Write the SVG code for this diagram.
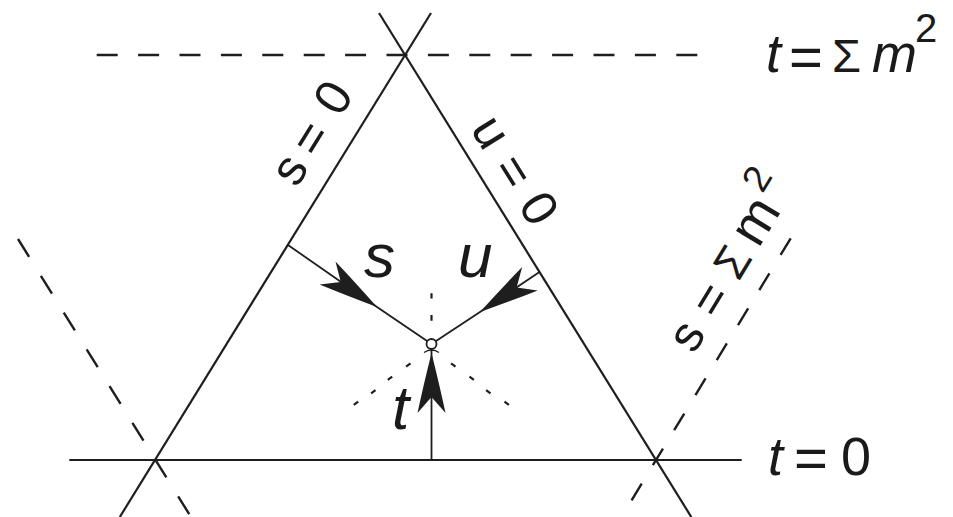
<svg xmlns="http://www.w3.org/2000/svg" width="953" height="517" viewBox="0 0 953 517">
<style>
.ln{stroke:#1e1e1e;stroke-width:2.2;fill:none;stroke-linecap:butt}
.ds{stroke:#1e1e1e;stroke-width:2.4;fill:none;stroke-dasharray:21 20.4}
.ds2{stroke:#1e1e1e;stroke-width:2.4;fill:none;stroke-dasharray:21 22.3}
.ds3{stroke:#1e1e1e;stroke-width:2.4;fill:none;stroke-dasharray:19.5 21.5}
.ar{stroke:#1e1e1e;stroke-width:1.8;fill:none}
.dt{stroke:#1e1e1e;stroke-width:2.2;fill:none}
text{font-family:"Liberation Sans",Arial,Helvetica,sans-serif;fill:#1a1a1a}
.it{font-style:italic}
.lb{font-size:50px}
.lbl{font-size:62px;font-style:italic}
.big{font-size:54px}
</style>
<defs>
<marker id="harpoon" markerUnits="userSpaceOnUse" markerWidth="70" markerHeight="34" viewBox="-64 -17 66 34" refX="0" refY="0" orient="auto" overflow="visible">
<path d="M0,0 Q-32,-8 -60,-14 L-44,0 L-60,14 Q-32,8 0,0 Z" fill="#1e1e1e"/>
</marker>
</defs>
<g id="connectors">
<line class="ds" x1="96.7" y1="55" x2="697.3" y2="55"/>
<line class="ds2" x1="18" y1="239" x2="191" y2="517"/>
<line class="ds3" x1="790.7" y1="238.3" x2="621.4" y2="517"/>
<line class="ln" x1="431" y1="13" x2="119.8" y2="517"/>
<line class="ln" x1="379" y1="13" x2="691.3" y2="517"/>
<line class="ln" x1="69.3" y1="460" x2="741.7" y2="460"/>
<path class="ar" d="M288,245 L377,307 L431.5,344" marker-mid="url(#harpoon)"/>
<path class="ar" d="M539.5,272 L480,312 L431.5,344" marker-mid="url(#harpoon)"/>
<path class="ar" d="M431.5,460 L431.5,353 L431.5,348.5" marker-mid="url(#harpoon)"/>
<path class="dt" d="M431.5,293.3 V298.5 M431.5,315 V320.7"/>
<path class="dt" d="M410.5,363.4 L406.1,366.6 M392.2,376.7 L387.8,379.9 M375.5,390.1 L371.1,393.3 M358.2,401.7 L353.8,404.9"/>
<path class="dt" d="M451.1,363.4 L455.5,366.6 M469.5,376.7 L473.9,379.9 M486.1,390.1 L490.5,393.3 M504.5,401.7 L508.9,404.9"/>
</g>
<g id="vertex">
<circle cx="431.5" cy="344" r="5" fill="#fff" stroke="#1e1e1e" stroke-width="1.8"/>
<path d="M424,352.5 Q431.5,347.5 439,352.5" stroke="#1e1e1e" stroke-width="1.3" fill="none"/>
</g>
<g id="label-s"><text class="lbl" x="364" y="277">s</text></g>
<g id="label-u"><text class="lbl" x="458" y="277">u</text></g>
<g id="label-t"><text class="lbl" x="392" y="429">t</text></g>
<g id="label-t0">
<text class="big it" x="768" y="475">t</text>
<text x="794" y="478" font-size="58">=</text>
<text class="big" x="841" y="475">0</text>
</g>
<g id="label-tsum">
<text class="big it" x="766" y="72">t</text>
<text x="789" y="77" font-size="58">=</text>
<text x="832" y="72" font-size="47">Σ</text>
<text class="big it" x="872" y="72">m</text>
<text x="915" y="42" font-size="40">2</text>
</g>
<g id="label-s0" transform="translate(155,460) rotate(-58.3)">
<text class="lb" x="317.7" y="-22" text-anchor="middle">s</text>
<text class="lb" x="355.6" y="-20" text-anchor="middle" font-size="54">=</text>
<text class="lb" x="402" y="-22" text-anchor="middle">0</text>
</g>
<g id="label-u0" transform="translate(405,55) rotate(58.2)">
<text class="lb" x="111" y="-16" text-anchor="middle">u</text>
<text class="lb" x="156.3" y="-14" text-anchor="middle" font-size="54">=</text>
<text class="lb" x="200.9" y="-16" text-anchor="middle">0</text>
</g>
<g id="label-ssum" transform="translate(656,460) rotate(-58.7)">
<text class="lb" x="122" y="-22" text-anchor="middle">s</text>
<text class="lb" x="165.4" y="-20" text-anchor="middle" font-size="54">=</text>
<text x="209" y="-22" text-anchor="middle" font-size="46">Σ</text>
<text x="256" y="-22" text-anchor="middle" font-size="54">m</text>
<text x="293" y="-47" text-anchor="middle" font-size="38">2</text>
</g>
</svg>
